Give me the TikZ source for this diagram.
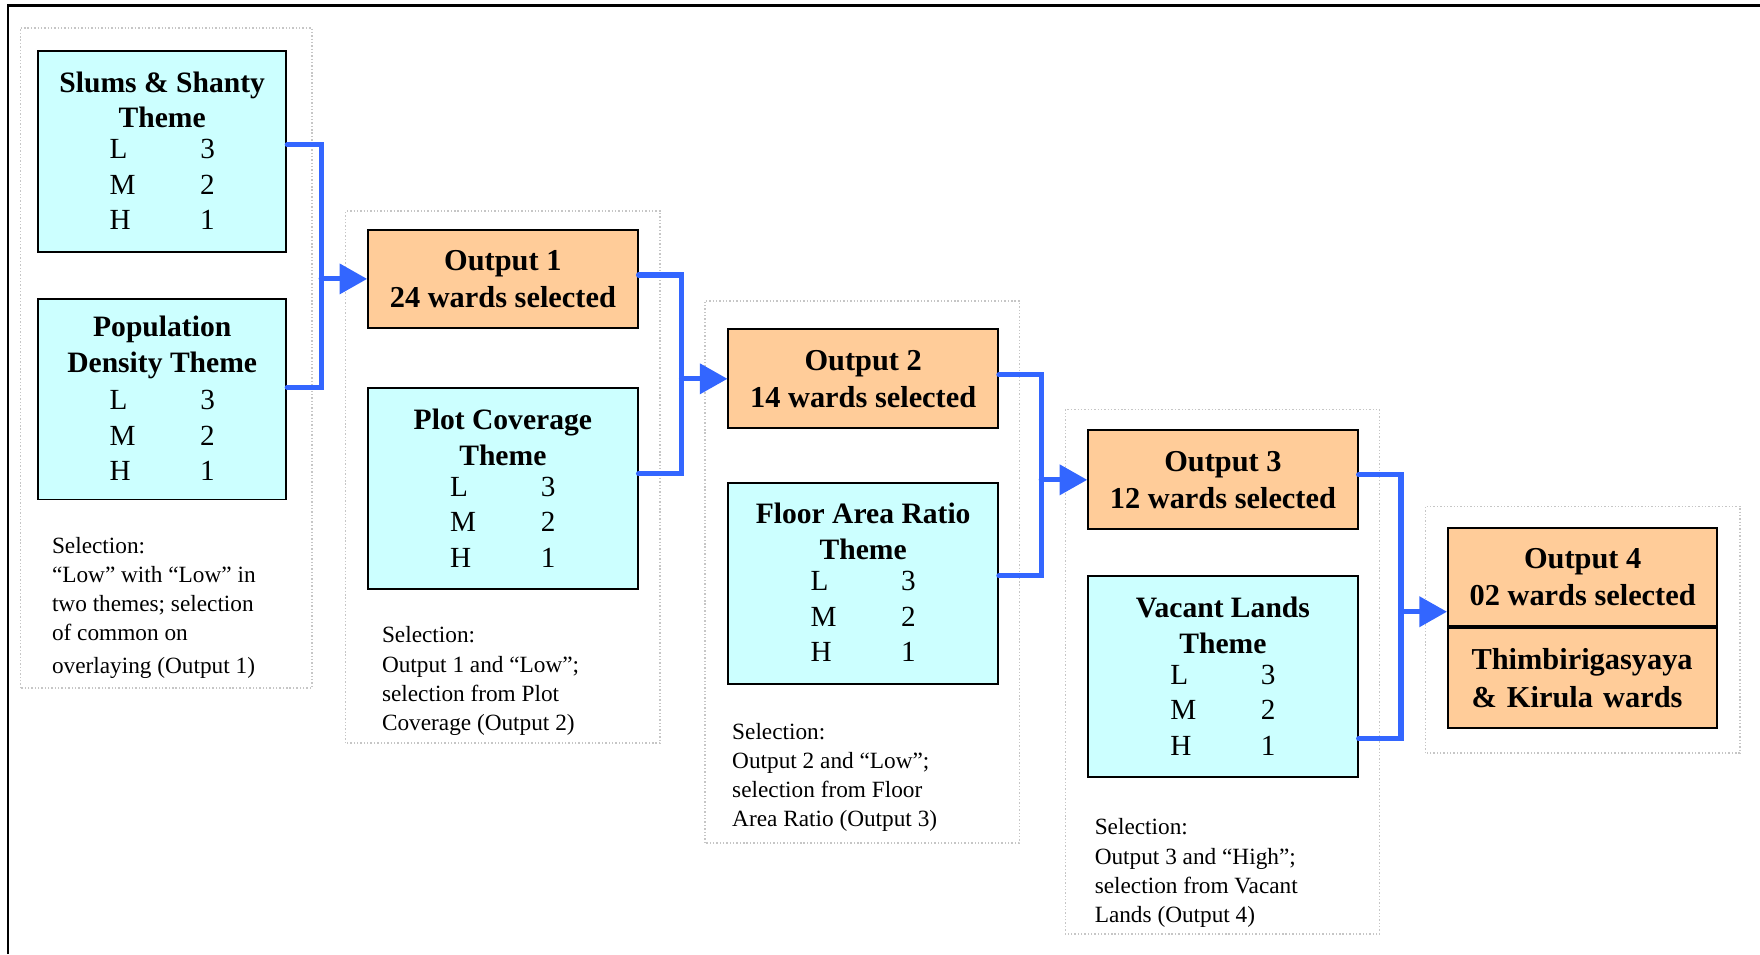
\documentclass[tikz,border=0pt]{standalone}
\usepackage{fontspec}
\setmainfont{Liberation Serif}
\usetikzlibrary{arrows.meta,positioning}

\definecolor{themecyan}{HTML}{CCFFFF}
\definecolor{outorange}{HTML}{FFCC99}
\definecolor{linkblue}{HTML}{3366FF}

\newcommand{\lmhrows}{{\normalfont\fontsize{14.8}{18}\selectfont
  \begin{tabular}{@{}p{46pt}@{}l@{}}
    L & 3\\
    M & 2\\
    H & 1
  \end{tabular}}}
\newcommand{\topstrut}{\rule{0pt}{15pt}}

\tikzset{
  theme/.style={draw, line width=1pt, fill=themecyan, minimum width=4.8cm,
    minimum height=3.58cm, align=center,
    font=\fontsize{15}{18.2}\selectfont\bfseries},
  output/.style={draw, line width=1pt, fill=outorange, minimum width=4.8cm,
    minimum height=1.76cm, align=center,
    font=\fontsize{15.4}{18.8}\selectfont\bfseries},
  group/.style={draw=gray!45, densely dotted, line width=0.7pt},
  seltext/.style={anchor=north west, inner sep=0, align=left,
    font=\fontsize{11.8}{14.8}\selectfont},
  link/.style={draw=linkblue, line width=2.6pt, line cap=round},
  linkarrow/.style={link, -{Triangle[length=14pt,width=15pt]}}
}

\begin{document}
\begin{tikzpicture}
  \useasboundingbox (0, 0) rectangle (31.36, 17);
  \draw[line width=1.2pt] (0.14, 0) -- (0.14, 16.9) -- (31.36, 16.9);

  \draw[group] (0.36, 4.74) rectangle (5.56, 16.5);
  \draw[group] (6.16, 3.76) rectangle (11.76, 13.24);
  \draw[group] (12.56, 1.98) rectangle (18.16, 11.64);
  \draw[group] (18.98, 0.36) rectangle (24.58, 9.7);
  \draw[group] (25.4, 3.58) rectangle (31.0, 7.98);

  \node[theme, minimum width=4.42cm] (slums) at (2.89, 14.3) {\topstrut Slums \& Shanty\\Theme\\[2pt]\lmhrows};
  \node[theme, minimum width=4.42cm] (popden) at (2.89, 9.89) {\topstrut Population\\Density Theme\\[2pt]\lmhrows};
  \node[seltext] (sel1) at (0.92, 7.44) {Selection:\\“Low” with “Low” in\\two themes; selection\\of common on\\[2pt]overlaying (Output 1)};

  \node[output] (out1) at (8.96, 12.03) {Output 1\\24 wards selected};
  \node[theme] (plotcov) at (8.96, 8.29) {\topstrut Plot Coverage\\Theme\\[2pt]\lmhrows};
  \node[seltext] (sel2) at (6.8, 5.84) {Selection:\\Output 1 and “Low”;\\selection from Plot\\Coverage (Output 2)};

  \node[output] (out2) at (15.38, 10.25) {Output 2\\14 wards selected};
  \node[theme] (floorar) at (15.38, 6.61) {\topstrut Floor Area Ratio\\Theme\\[2pt]\lmhrows};
  \node[seltext] (sel3) at (13.04, 4.12) {Selection:\\Output 2 and “Low”;\\selection from Floor\\Area Ratio (Output 3)};

  \node[output] (out3) at (21.79, 8.45) {Output 3\\12 wards selected};
  \node[theme] (vacant) at (21.79, 4.94) {\topstrut Vacant Lands\\Theme\\[2pt]\lmhrows};
  \node[seltext] (sel4) at (19.5, 2.42) {Selection:\\Output 3 and “High”;\\selection from Vacant\\Lands (Output 4)};

  \node[output] (out4) at (28.2, 6.72) {Output 4\\02 wards selected};
  \node[output, anchor=north, minimum height=1.78cm, text width=3.96cm, align=left,
    font=\fontsize{15.4}{19.3}\selectfont\bfseries] (wards) at (out4.south) {Thimbirigasyaya\\\& Kirula wards};

  % joins
  \path (out1.west) ++(-0.82, 0) coordinate (j1);
  \path (out2.west) ++(-0.82, 0) coordinate (j2);
  \path (out3.west) ++(-0.82, 0) coordinate (j3);
  \path ([yshift=-0.62cm]out4.west) coordinate (t4) ++(-0.82, 0) coordinate (j4);

  \draw[link] ([yshift=0.12cm]slums.east) -| (j1) |- ([yshift=0.21cm]popden.east);
  \draw[linkarrow] (j1) -- (out1.west);
  \draw[link] ([yshift=0.07cm]out1.east) -| (j2) |- ([yshift=0.27cm]plotcov.east);
  \draw[linkarrow] (j2) -- (out2.west);
  \draw[link] ([yshift=0.07cm]out2.east) -| (j3) |- ([yshift=0.13cm]floorar.east);
  \draw[linkarrow] (j3) -- (out3.west);
  \draw[link] ([yshift=0.09cm]out3.east) -| (j4) |- ([yshift=-1.1cm]vacant.east);
  \draw[linkarrow] (j4) -- (t4);
\end{tikzpicture}
\end{document}
